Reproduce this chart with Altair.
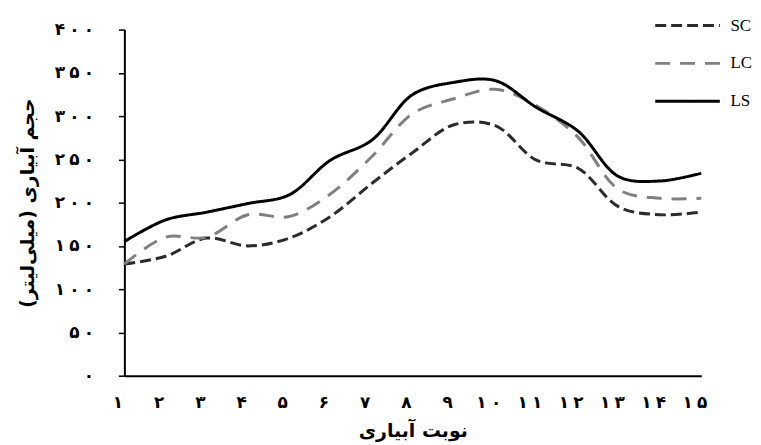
import altair as alt
import pandas as pd

# Data
irrigation = list(range(1, 16))
series_names = ["SC", "LC", "LS"]
sc = [129, 138, 159, 150, 159, 184, 222, 258, 290, 289, 249, 240, 195, 186, 189]
lc = [129, 160, 160, 186, 184, 210, 253, 303, 320, 331, 312, 276, 215, 205, 205]
ls = [155, 180, 189, 199, 209, 249, 272, 325, 339, 341, 310, 283, 230, 225, 234]
y_ticks = list(range(0, 401, 50))

rows = []
for name, vals in zip(series_names, [sc, lc, ls]):
    for x, v in zip(irrigation, vals):
        rows.append({"irr": x, "vol": v, "series": name})
df = pd.DataFrame(rows)

FA = str.maketrans("0123456789", "۰۱۲۳۴۵۶۷۸۹")
GAP = "\u2005"


def fa_expr(values):
    expr = "''"
    for v in reversed(values):
        txt = GAP.join(str(v).translate(FA))
        expr = f"datum.value == {v} ? '{txt}' : ({expr})"
    return expr


PFONT = "DejaVu Sans"
legend = alt.Legend(
    title=None,
    orient="none",
    legendX=553.7,
    legendY=-16.5,
    symbolType="M-3,0H3",
    symbolSize=469,
    symbolStrokeWidth=3,
    labelFont="Liberation Serif",
    labelFontSize=17,
    labelColor="black",
    labelOffset=30.6,
    rowPadding=17,
    padding=0,
)

chart = (
    alt.Chart(df)
    .mark_line(interpolate="catmull-rom", strokeWidth=3)
    .encode(
        x=alt.X(
            "irr:Q",
            scale=alt.Scale(domain=[1, 15], nice=False, zero=False),
            axis=alt.Axis(
                values=irrigation,
                labelExpr=fa_expr(irrigation),
                title="\u200fنوبت آبیاری\u200f",
                ticks=False,
                tickSize=0,
                grid=False,
                labelFlush=False,
                labelPadding=19,
                labelOffset=-7,
                labelFont=PFONT,
                labelFontWeight="bold",
                labelFontSize=17,
                labelColor="black",
                titleFont=PFONT,
                titleFontWeight="bold",
                titleFontSize=19,
                titleColor="black",
                titleY=55,
                titleBaseline="middle",
                domainColor="black",
                domainWidth=2,
            ),
        ),
        y=alt.Y(
            "vol:Q",
            scale=alt.Scale(domain=[0, 400], nice=False),
            axis=alt.Axis(
                values=y_ticks,
                labelExpr=fa_expr(y_ticks),
                title="\u200fحجم آبیاری (میلی‌لیتر)\u200f",
                grid=False,
                tickSize=6,
                tickWidth=1.5,
                tickColor="black",
                labelPadding=25,
                labelFont=PFONT,
                labelFontWeight="bold",
                labelFontSize=17,
                labelColor="black",
                titleFont=PFONT,
                titleFontWeight="bold",
                titleFontSize=19,
                titleColor="black",
                titleX=-97,
                titleY=174,
                titleBaseline="middle",
                domainColor="black",
                domainWidth=2,
            ),
        ),
        color=alt.Color(
            "series:N",
            scale=alt.Scale(domain=series_names, range=["#2b2b2b", "#808080", "#000000"]),
            legend=legend,
        ),
        strokeDash=alt.StrokeDash(
            "series:N",
            scale=alt.Scale(domain=series_names, range=[[11, 5], [15, 10], [1, 0]]),
            legend=legend,
        ),
    )
    .properties(
        width=580,
        height=348,
        autosize=alt.AutoSizeParams(type="none"),
        padding={"left": 117, "top": 20.5, "right": 52, "bottom": 66},
    )
    .configure_view(stroke=None)
)

chart.save("out.html", embed_options={"renderer": "svg", "actions": False})
